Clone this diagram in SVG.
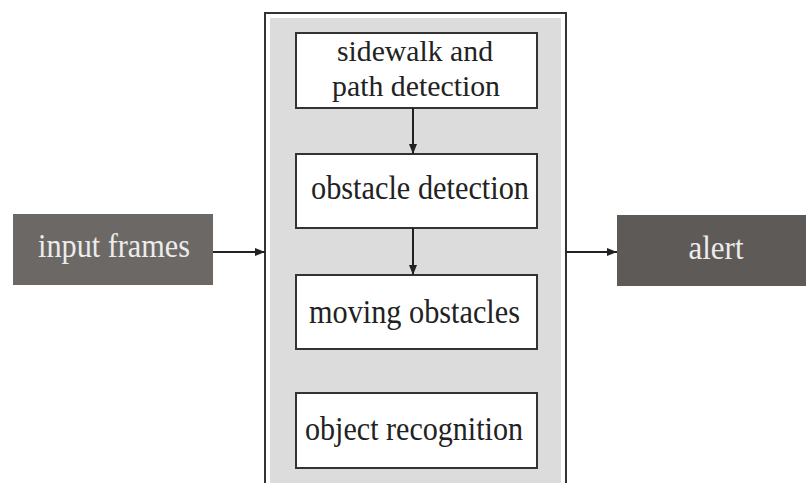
<svg xmlns="http://www.w3.org/2000/svg" width="808" height="483" viewBox="0 0 808 483">
<style>
.t{font-family:"Liberation Serif","Times New Roman",serif;font-size:34px;text-anchor:middle}
.two{font-size:30px}
.dark{fill:#ececec}
.ink{fill:#222}
.box{fill:#fff;stroke:#333;stroke-width:2}
.ln{stroke:#222;stroke-width:2;fill:none}
</style>
<defs>
<marker id="ah" viewBox="0 0 10 10" refX="10" refY="5" markerWidth="10" markerHeight="10" markerUnits="userSpaceOnUse" orient="auto">
<path d="M0,1 L10,5 L0,9 z" fill="#222"/>
</marker>
</defs>
<g id="container">
<rect x="265" y="13" width="301" height="480" fill="#fff" stroke="#333" stroke-width="2"/>
<rect x="270" y="18" width="291" height="470" fill="#dcdcdc"/>
</g>
<g id="input">
<rect x="13" y="214" width="200" height="71" fill="#6c6866"/>
<text class="t dark" x="114" y="257" textLength="152" lengthAdjust="spacingAndGlyphs">input frames</text>
</g>
<g id="alert">
<rect x="617" y="215" width="189" height="71" fill="#5e5a58"/>
<text class="t dark" x="716" y="259" textLength="55" lengthAdjust="spacingAndGlyphs">alert</text>
</g>
<g id="sidewalk">
<rect class="box" x="296" y="33" width="241" height="75"/>
<text class="t two ink" x="415" y="61" textLength="156" lengthAdjust="spacingAndGlyphs">sidewalk and</text>
<text class="t two ink" x="416" y="96" textLength="168" lengthAdjust="spacingAndGlyphs">path detection</text>
</g>
<g id="obstacle">
<rect class="box" x="296" y="154" width="241" height="74"/>
<text class="t ink" x="420" y="199" textLength="218" lengthAdjust="spacingAndGlyphs">obstacle detection</text>
</g>
<g id="moving">
<rect class="box" x="296" y="275" width="241" height="74"/>
<text class="t ink" x="414.5" y="323" textLength="211" lengthAdjust="spacingAndGlyphs">moving obstacles</text>
</g>
<g id="recognition">
<rect class="box" x="296" y="393" width="241" height="75"/>
<text class="t ink" x="414" y="440" textLength="218" lengthAdjust="spacingAndGlyphs">object recognition</text>
</g>
<g id="connectors">
<line class="ln" x1="213" y1="252" x2="265" y2="252" marker-end="url(#ah)"/>
<line class="ln" x1="566" y1="252" x2="617" y2="252" marker-end="url(#ah)"/>
<line class="ln" x1="413" y1="108" x2="413" y2="154" marker-end="url(#ah)"/>
<line class="ln" x1="413" y1="228" x2="413" y2="275" marker-end="url(#ah)"/>
</g>
</svg>
